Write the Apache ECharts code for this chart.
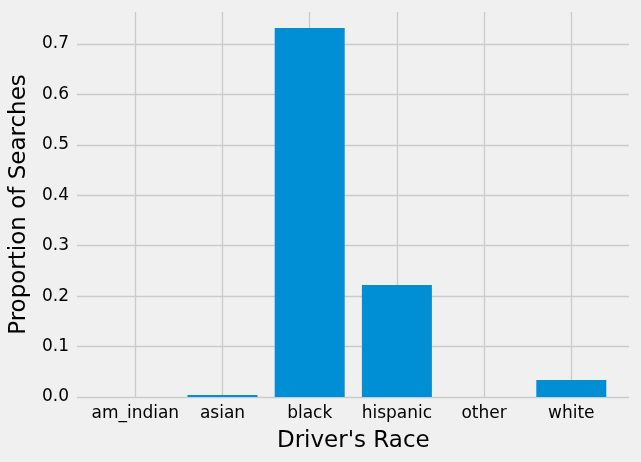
<!DOCTYPE html>
<html>
<head>
<meta charset="utf-8">
<script src="https://cdn.jsdelivr.net/npm/echarts@6/dist/echarts.min.js"></script>
<style>
html,body{margin:0;padding:0;background:#f0f0f0;}
#chart{width:641px;height:462px;}
</style>
</head>
<body>
<div id="chart"></div>
<script>
const categories = ["am_indian", "asian", "black", "hispanic", "other", "white"];
const proportions = [0.0, 0.004, 0.7317, 0.222, 0.0, 0.0337];
const yMin = 0;
const yMax = 0.7634;
const yInterval = 0.1;

const FONT = "DejaVu Sans";
const GRID_COLOR = "#cbcbcb";
const TEXT_COLOR = "#000000";

const chart = echarts.init(document.getElementById("chart"), null, {renderer: "canvas"});
chart.setOption({
  backgroundColor: "#f0f0f0",
  animation: false,
  grid: [
    {left: 76, right: 12, top: 12, bottom: 65, containLabel: false},
    {left: 135.3, right: 69.7, top: 12, bottom: 65, containLabel: false}
  ],
  xAxis: [
    {type: "value", gridIndex: 0, show: false, min: 0, max: 1,
      axisLine: {show: false}, axisTick: {show: false}, axisLabel: {show: false},
      splitLine: {show: false}},
    {
      type: "category", gridIndex: 1, data: categories, boundaryGap: false,
      axisLine: {show: false}, axisTick: {show: false},
      axisLabel: {color: TEXT_COLOR, fontFamily: FONT, fontSize: 17, margin: 8, interval: 0},
      splitLine: {show: true, lineStyle: {color: GRID_COLOR, width: 1.3}},
      name: "Driver's Race", nameLocation: "middle", nameGap: 33,
      nameTextStyle: {color: TEXT_COLOR, fontFamily: FONT, fontSize: 23}
    }
  ],
  yAxis: [
    {
      type: "value", gridIndex: 0, min: yMin, max: yMax, interval: yInterval,
      axisLine: {show: false}, axisTick: {show: false},
      axisLabel: {color: TEXT_COLOR, fontFamily: FONT, fontSize: 17, margin: 8,
        formatter: v => v.toFixed(1), showMaxLabel: false},
      splitLine: {show: true, showMaxLine: false, lineStyle: {color: GRID_COLOR, width: 1.3}},
      name: "Proportion of Searches", nameLocation: "middle", nameGap: 46,
      nameTextStyle: {color: TEXT_COLOR, fontFamily: FONT, fontSize: 23}
    },
    {type: "value", gridIndex: 1, min: yMin, max: yMax, show: false,
      axisLine: {show: false}, splitLine: {show: false}}
  ],
  series: [{
    type: "bar", xAxisIndex: 1, yAxisIndex: 1, data: proportions,
    barWidth: 70, clip: false,
    itemStyle: {color: "#008fd5"}
  }]
});
</script>
</body>
</html>
